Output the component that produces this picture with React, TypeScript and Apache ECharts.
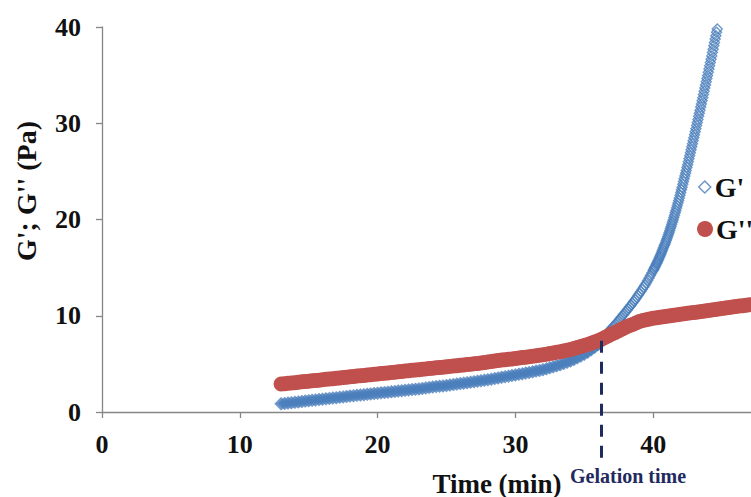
import React, { useEffect, useRef } from "react";
import * as echarts from "echarts";

// Tick labels
const xTicks = [0, 10, 20, 30, 40];
const yTicks = [0, 10, 20, 30, 40];

// Gelation point (crossover of G' and G'')
const gelationTime = 36.25;
const gelationModulus = 7.4;

// G' (storage modulus), [time (min), Pa]
const storageModulus: [number, number][] = [
  [13.0, 0.85], [13.25, 0.89], [13.5, 0.93], [13.75, 0.97],
  [14.0, 1.01], [14.25, 1.05], [14.5, 1.09], [14.75, 1.13],
  [15.0, 1.17], [15.25, 1.21], [15.5, 1.25], [15.75, 1.29],
  [16.0, 1.33], [16.25, 1.37], [16.5, 1.41], [16.75, 1.45],
  [17.0, 1.49], [17.25, 1.53], [17.5, 1.57], [17.75, 1.61],
  [18.0, 1.65], [18.25, 1.69], [18.5, 1.73], [18.75, 1.76],
  [19.0, 1.8], [19.25, 1.84], [19.5, 1.88], [19.75, 1.91],
  [20.0, 1.95], [20.25, 1.99], [20.5, 2.03], [20.75, 2.06],
  [21.0, 2.1], [21.25, 2.14], [21.5, 2.18], [21.75, 2.21],
  [22.0, 2.25], [22.25, 2.29], [22.5, 2.33], [22.75, 2.36],
  [23.0, 2.4], [23.25, 2.45], [23.5, 2.5], [23.75, 2.55],
  [24.0, 2.6], [24.25, 2.64], [24.5, 2.68], [24.75, 2.71],
  [25.0, 2.75], [25.25, 2.8], [25.5, 2.85], [25.75, 2.9],
  [26.0, 2.95], [26.25, 3.0], [26.5, 3.05], [26.75, 3.1],
  [27.0, 3.15], [27.25, 3.2], [27.5, 3.25], [27.75, 3.3],
  [28.0, 3.35], [28.25, 3.41], [28.5, 3.47], [28.75, 3.54],
  [29.0, 3.6], [29.25, 3.66], [29.5, 3.72], [29.75, 3.79],
  [30.0, 3.85], [30.25, 3.91], [30.5, 3.97], [30.75, 4.04],
  [31.0, 4.1], [31.25, 4.17], [31.5, 4.25], [31.75, 4.32],
  [32.0, 4.4], [32.25, 4.49], [32.5, 4.59], [32.75, 4.69],
  [33.0, 4.8], [33.25, 4.92], [33.5, 5.04], [33.75, 5.17],
  [34.0, 5.3], [34.25, 5.46], [34.5, 5.63], [34.75, 5.81],
  [35.0, 6.0], [35.25, 6.22], [35.5, 6.46], [35.75, 6.72],
  [36.0, 7.0], [36.1, 7.19], [36.2, 7.37], [36.3, 7.55], [36.4, 7.73],
  [36.5, 7.9], [36.6, 8.06], [36.7, 8.22], [36.8, 8.38], [36.9, 8.54],
  [37.0, 8.7], [37.1, 8.86], [37.2, 9.02], [37.3, 9.18], [37.4, 9.34],
  [37.5, 9.5], [37.6, 9.68], [37.7, 9.86], [37.8, 10.04], [37.9, 10.22],
  [38.0, 10.4], [38.1, 10.58], [38.2, 10.76], [38.3, 10.94], [38.4, 11.12],
  [38.5, 11.3], [38.6, 11.5], [38.7, 11.7], [38.8, 11.9], [38.9, 12.1],
  [39.0, 12.3], [39.1, 12.52], [39.2, 12.74], [39.3, 12.96], [39.4, 13.18],
  [39.5, 13.4], [39.6, 13.66], [39.7, 13.92], [39.8, 14.18], [39.9, 14.44],
  [40.0, 14.7], [40.05, 14.84], [40.1, 14.98], [40.15, 15.12], [40.2, 15.27],
  [40.25, 15.42], [40.3, 15.57], [40.35, 15.72], [40.4, 15.88], [40.45, 16.04],
  [40.5, 16.2], [40.55, 16.37], [40.6, 16.54], [40.65, 16.72], [40.7, 16.9],
  [40.75, 17.08], [40.8, 17.26], [40.85, 17.44], [40.9, 17.62], [40.95, 17.81],
  [41.0, 18.0], [41.05, 18.2], [41.1, 18.41], [41.15, 18.62], [41.2, 18.84],
  [41.25, 19.06], [41.3, 19.28], [41.35, 19.5], [41.4, 19.73], [41.45, 19.96],
  [41.5, 20.2], [41.55, 20.44], [41.6, 20.69], [41.65, 20.94], [41.7, 21.19],
  [41.75, 21.45], [41.8, 21.71], [41.85, 21.97], [41.9, 22.24], [41.95, 22.52],
  [42.0, 22.8], [42.05, 23.08], [42.1, 23.36], [42.15, 23.65], [42.2, 23.94],
  [42.25, 24.23], [42.3, 24.52], [42.35, 24.81], [42.4, 25.1], [42.45, 25.4],
  [42.5, 25.7], [42.55, 26.01], [42.6, 26.32], [42.65, 26.63], [42.7, 26.94],
  [42.75, 27.25], [42.8, 27.56], [42.85, 27.87], [42.9, 28.18], [42.95, 28.49],
  [43.0, 28.8], [43.05, 29.12], [43.1, 29.44], [43.15, 29.76], [43.2, 30.08],
  [43.25, 30.4], [43.3, 30.72], [43.35, 31.04], [43.4, 31.36], [43.45, 31.68],
  [43.5, 32.0], [43.55, 32.33], [43.6, 32.66], [43.65, 32.99], [43.7, 33.32],
  [43.75, 33.65], [43.8, 33.98], [43.85, 34.31], [43.9, 34.64], [43.95, 34.97],
  [44.0, 35.3], [44.05, 35.64], [44.1, 35.98], [44.15, 36.32], [44.2, 36.66],
  [44.25, 37.0], [44.3, 37.35], [44.35, 37.7], [44.4, 38.05], [44.45, 38.4],
  [44.5, 38.75], [44.55, 39.1], [44.6, 39.45], [44.65, 39.8],
];

// G'' (loss modulus), [time (min), Pa]
const lossModulus: [number, number][] = [
  [13.0, 2.9], [13.25, 2.94], [13.5, 2.98], [13.75, 3.01],
  [14.0, 3.05], [14.25, 3.09], [14.5, 3.13], [14.75, 3.16],
  [15.0, 3.2], [15.25, 3.24], [15.5, 3.28], [15.75, 3.31],
  [16.0, 3.35], [16.25, 3.39], [16.5, 3.43], [16.75, 3.46],
  [17.0, 3.5], [17.25, 3.54], [17.5, 3.58], [17.75, 3.61],
  [18.0, 3.65], [18.25, 3.69], [18.5, 3.73], [18.75, 3.76],
  [19.0, 3.8], [19.25, 3.84], [19.5, 3.88], [19.75, 3.91],
  [20.0, 3.95], [20.25, 3.99], [20.5, 4.03], [20.75, 4.06],
  [21.0, 4.1], [21.25, 4.14], [21.5, 4.18], [21.75, 4.21],
  [22.0, 4.25], [22.25, 4.29], [22.5, 4.33], [22.75, 4.36],
  [23.0, 4.4], [23.25, 4.44], [23.5, 4.48], [23.75, 4.51],
  [24.0, 4.55], [24.25, 4.59], [24.5, 4.63], [24.75, 4.66],
  [25.0, 4.7], [25.25, 4.74], [25.5, 4.78], [25.75, 4.81],
  [26.0, 4.85], [26.25, 4.89], [26.5, 4.93], [26.75, 4.96],
  [27.0, 5.0], [27.25, 5.05], [27.5, 5.1], [27.75, 5.15],
  [28.0, 5.2], [28.25, 5.25], [28.5, 5.3], [28.75, 5.35],
  [29.0, 5.4], [29.25, 5.44], [29.5, 5.48], [29.75, 5.51],
  [30.0, 5.55], [30.25, 5.6], [30.5, 5.65], [30.75, 5.7],
  [31.0, 5.75], [31.25, 5.8], [31.5, 5.85], [31.75, 5.9],
  [32.0, 5.95], [32.25, 6.01], [32.5, 6.07], [32.75, 6.13],
  [33.0, 6.2], [33.25, 6.27], [33.5, 6.35], [33.75, 6.42],
  [34.0, 6.5], [34.25, 6.6], [34.5, 6.7], [34.75, 6.8],
  [35.0, 6.9], [35.25, 7.02], [35.5, 7.14], [35.75, 7.27],
  [36.0, 7.4], [36.25, 7.57], [36.5, 7.75], [36.75, 7.92],
  [37.0, 8.1], [37.25, 8.27], [37.5, 8.45], [37.75, 8.62],
  [38.0, 8.8], [38.25, 8.95], [38.5, 9.1], [38.75, 9.25],
  [39.0, 9.4], [39.25, 9.5], [39.5, 9.59], [39.75, 9.67],
  [40.0, 9.75], [40.25, 9.8], [40.5, 9.85], [40.75, 9.9],
  [41.0, 9.95], [41.25, 10.0], [41.5, 10.05], [41.75, 10.1],
  [42.0, 10.15], [42.25, 10.2], [42.5, 10.25], [42.75, 10.3],
  [43.0, 10.35], [43.25, 10.4], [43.5, 10.45], [43.75, 10.5],
  [44.0, 10.55], [44.25, 10.6], [44.5, 10.65], [44.75, 10.7],
  [45.0, 10.75], [45.25, 10.8], [45.5, 10.85], [45.75, 10.9],
  [46.0, 10.95], [46.25, 11.0], [46.5, 11.05], [46.75, 11.1],
  [47.0, 11.15],
];

const FONT = '"Liberation Serif", "Times New Roman", Times, serif';
const TEXT = "#111111";
const AXIS = "#868686";
const BLUE = "#4A7EBB";
const RED = "#C0504D";
const NAVY = "#1F2A5E";

export default function App() {
  const ref = useRef<HTMLDivElement>(null);

  useEffect(() => {
    if (!ref.current) return;
    const chart = echarts.init(ref.current, null, { renderer: "svg" });
    const tickLabel = {
      fontFamily: FONT,
      fontWeight: "bold",
      fontSize: 26,
      color: TEXT,
    };

    // dense, flat part of G' looks like a solid band; steep part shows hollow diamonds
    const storageData = storageModulus.map(([t, v]) =>
      v < 7.6
        ? {
            value: [t, v],
            symbolSize: 13,
            itemStyle: { color: BLUE, borderColor: BLUE, borderWidth: 0.5 },
          }
        : {
            value: [t, v],
            symbolSize: 10,
            itemStyle: {
              color: "rgba(255,255,255,0)",
              borderColor: BLUE,
              borderWidth: 1.4,
            },
          }
    );

    chart.setOption({
      animation: false,
      backgroundColor: "#ffffff",
      grid: { left: 102, right: 0, top: 27, bottom: 85, containLabel: false },
      xAxis: {
        type: "value",
        min: 0,
        max: 47.1,
        interval: 10,
        splitLine: { show: false },
        axisLine: { show: true, lineStyle: { color: AXIS, width: 1.3 } },
        axisTick: {
          show: true,
          length: 6,
          customValues: xTicks,
          lineStyle: { color: AXIS, width: 1.3 },
        },
        axisLabel: { ...tickLabel, margin: 19, customValues: xTicks },
      },
      yAxis: {
        type: "value",
        min: 0,
        max: 40,
        interval: 10,
        splitLine: { show: false },
        axisLine: { show: true, lineStyle: { color: AXIS, width: 1.3 } },
        axisTick: {
          show: true,
          length: 6,
          customValues: yTicks,
          lineStyle: { color: AXIS, width: 1.3 },
        },
        axisLabel: { ...tickLabel, margin: 21, customValues: yTicks },
      },
      legend: [
        {
          data: [
            {
              name: "G'",
              icon: "diamond",
              itemStyle: { color: "#ffffff", borderColor: BLUE, borderWidth: 1.5 },
            },
          ],
          left: 698,
          top: 173,
          padding: 0,
          itemWidth: 12,
          itemHeight: 12,
          selectedMode: false,
          textStyle: { fontFamily: FONT, fontWeight: "bold", fontSize: 28, color: TEXT, padding: [0, 0, 0, -1] },
        },
        {
          data: [{ name: "G''", icon: "circle", itemStyle: { color: RED } }],
          left: 697,
          top: 215,
          padding: 0,
          itemWidth: 16,
          itemHeight: 16,
          selectedMode: false,
          textStyle: { fontFamily: FONT, fontWeight: "bold", fontSize: 28, color: TEXT, padding: [0, 0, 0, -2] },
        },
      ],
      series: [
        {
          name: "G'",
          type: "scatter",
          data: storageData,
          symbol: "diamond",
          silent: true,
          itemStyle: { color: BLUE, borderColor: BLUE },
          z: 2,
        },
        {
          name: "G''",
          type: "scatter",
          data: lossModulus,
          symbol: "circle",
          symbolSize: 15,
          silent: true,
          itemStyle: { color: RED, opacity: 1 },
          z: 3,
        },
      ],
    });

    const p = chart.convertToPixel({ xAxisIndex: 0, yAxisIndex: 0 }, [
      gelationTime,
      gelationModulus,
    ]) as number[];

    chart.setOption({
      graphic: [
        {
          type: "line",
          z: 10,
          shape: { x1: p[0], y1: p[1], x2: p[0], y2: 463 },
          style: { stroke: NAVY, lineWidth: 3, lineDash: [12, 9] },
        },
        {
          type: "text",
          z: 10,
          x: 570,
          y: 476,
          style: {
            text: "Gelation time",
            fontFamily: FONT,
            fontWeight: "bold",
            fontSize: 20,
            fill: NAVY,
            align: "left",
            verticalAlign: "middle",
          },
        },
        {
          type: "text",
          z: 10,
          x: 497,
          y: 484,
          style: {
            text: "Time (min)",
            fontFamily: FONT,
            fontWeight: "bold",
            fontSize: 27,
            fill: TEXT,
            align: "center",
            verticalAlign: "middle",
          },
        },
        {
          type: "text",
          z: 10,
          x: 26,
          y: 191,
          rotation: Math.PI / 2,
          style: {
            text: "G'; G'' (Pa)",
            fontFamily: FONT,
            fontWeight: "bold",
            fontSize: 28,
            fill: TEXT,
            align: "center",
            verticalAlign: "middle",
          },
        },
      ],
    });

    return () => chart.dispose();
  }, []);

  return (
    <div
      ref={ref}
      style={{ position: "absolute", left: 0, top: 0, width: 751, height: 497 }}
    />
  );
}
